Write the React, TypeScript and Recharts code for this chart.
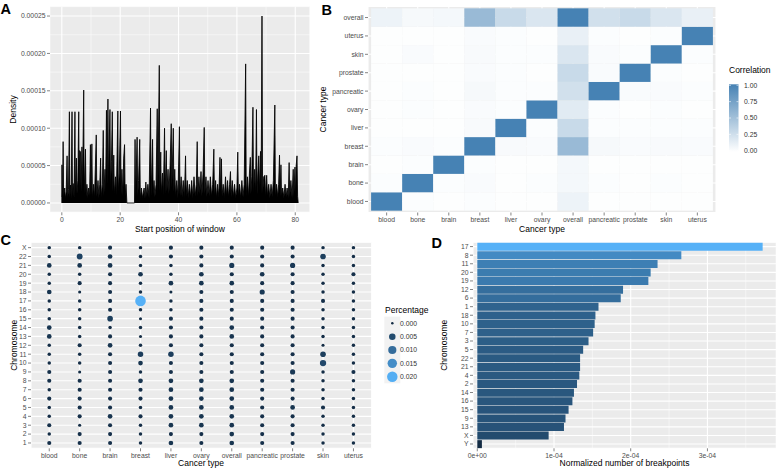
import {
  Area,
  AreaChart,
  Bar,
  BarChart,
  CartesianGrid,
  Cell,
  Scatter,
  ScatterChart,
  XAxis,
  YAxis,
} from 'recharts';

const W = 777;
const H = 469;
const FONT = '"Liberation Sans", Arial, Helvetica, sans-serif';
const AXIS_TEXT = '#4D4D4D';
const TICK_LINE = '#333333';
const PANEL_BG = '#EBEBEB';

// A: breakpoint density along the genome, [start (Mb), density x 1e-5]
const WINDOW_DENSITY: [number, number][] = [
  [0, 0], [0.05, 5.1], [0.15, 0.8], [0.3, 2.0], [0.45, 8.2], [0.6, 0.7], [0.8, 1.5], [1.0, 2.0],
  [1.2, 0.6], [1.5, 1.5], [1.8, 6.3], [2.0, 0.7], [2.3, 1.8], [2.6, 12.2], [2.75, 0.7], [3.0, 2.4],
  [3.2, 0.6], [3.5, 12.2], [3.65, 0.8], [3.9, 2.6], [4.2, 0.7], [4.5, 12.2], [4.65, 1.0], [5.0, 6.0],
  [5.2, 1.2], [5.5, 3.0], [5.8, 12.2], [5.95, 1.5], [6.1, 7.0], [6.4, 6.8], [6.6, 1.5], [6.9, 7.5],
  [7.1, 2.0], [7.5, 15.1], [7.65, 1.2], [8.1, 7.2], [8.3, 0.9], [8.6, 2.5], [8.9, 0.7], [9.2, 2.0],
  [9.5, 0.8], [9.8, 7.8], [10.0, 0.9], [10.3, 7.9], [10.5, 0.7], [10.9, 2.5], [11.2, 0.7], [11.8, 9.1],
  [12.0, 0.8], [12.4, 3.0], [12.7, 0.7], [13.0, 2.5], [13.3, 6.0], [13.5, 0.8], [13.9, 2.5], [14.2, 9.7],
  [14.4, 0.9], [14.8, 4.5], [15.0, 1.2], [15.3, 12.4], [15.5, 2.5], [15.8, 13.9], [16.0, 3.0], [16.2, 7.0],
  [16.5, 12.5], [16.7, 2.0], [17.0, 5.5], [17.3, 12.2], [17.5, 1.5], [17.8, 6.4], [18.0, 1.2], [18.4, 3.5],
  [18.7, 0.9], [19.2, 12.3], [19.35, 1.5], [19.7, 4.0], [20.1, 12.3], [20.3, 1.2], [20.6, 4.5], [20.9, 0.9],
  [21.2, 6.0], [21.5, 7.8], [21.7, 0.9], [22.0, 2.5], [22.25, 0.4], [22.3, 0], [24.9, 0], [25.1, 8.5],
  [25.3, 0.7], [25.8, 8.8], [26.0, 0.9], [26.3, 3.0], [26.7, 8.5], [26.9, 0.7], [27.3, 2.0], [27.6, 0.7],
  [28.2, 2.0], [28.5, 0.6], [28.8, 2.8], [29.1, 0.8], [29.5, 2.5], [29.9, 0.7], [30.4, 12.7], [30.6, 0.9],
  [31.1, 8.5], [31.3, 1.2], [31.6, 3.0], [31.9, 0.8], [32.3, 2.5], [32.7, 12.6], [32.9, 1.2], [33.4, 18.4],
  [33.6, 1.5], [33.9, 6.8], [34.1, 1.2], [34.5, 4.0], [34.8, 0.9], [35.2, 10.0], [35.4, 1.2], [35.8, 7.0],
  [36.0, 1.5], [36.4, 4.5], [36.7, 1.2], [37.1, 5.0], [37.5, 10.6], [37.7, 2.0], [38.2, 10.0], [38.4, 1.5],
  [38.7, 4.5], [39.0, 0.9], [39.4, 3.0], [39.8, 0.7], [40.3, 10.2], [40.5, 0.9], [40.9, 3.5], [41.2, 0.8],
  [41.6, 3.0], [42.0, 0.7], [42.4, 6.3], [42.6, 0.9], [43.0, 3.0], [43.3, 0.7], [43.7, 2.5], [44.1, 0.8],
  [44.5, 3.0], [44.9, 0.7], [45.3, 3.5], [45.7, 0.9], [46.1, 2.5], [46.4, 8.2], [46.6, 0.9], [47.0, 3.5],
  [47.3, 1.2], [47.7, 4.2], [48.0, 0.9], [48.4, 4.0], [48.8, 10.1], [49.0, 1.2], [49.4, 3.5], [49.7, 0.8],
  [50.1, 3.0], [50.5, 0.9], [50.9, 3.5], [51.3, 0.9], [51.7, 2.5], [52.1, 7.2], [52.3, 0.9], [52.7, 3.0],
  [53.0, 0.7], [53.4, 2.5], [53.8, 0.8], [54.2, 6.1], [54.4, 1.2], [54.7, 5.9], [54.9, 0.9], [55.3, 2.5],
  [55.7, 0.7], [56.1, 3.5], [56.4, 0.9], [56.8, 3.0], [57.1, 0.8], [57.5, 2.5], [57.8, 4.2], [58.0, 0.8],
  [58.4, 3.0], [58.8, 0.8], [59.2, 2.5], [59.6, 0.7], [60.0, 2.0], [60.3, 6.8], [60.5, 0.9], [60.9, 2.5],
  [61.3, 0.7], [61.7, 3.0], [62.1, 0.8], [62.5, 2.5], [63.0, 18.6], [63.2, 0.9], [63.6, 3.5], [64.0, 0.8],
  [64.3, 4.0], [64.6, 6.1], [64.8, 1.2], [65.1, 3.5], [65.5, 12.8], [65.7, 1.2], [66.1, 4.5], [66.4, 1.2],
  [66.7, 12.5], [66.9, 1.2], [67.2, 4.0], [67.5, 6.3], [67.7, 1.5], [68.1, 6.9], [68.3, 1.2], [68.6, 25.0],
  [68.8, 1.2], [69.2, 3.5], [69.6, 3.7], [69.8, 0.8], [70.2, 3.7], [70.5, 0.9], [70.9, 2.5], [71.3, 0.7],
  [71.7, 2.5], [72.1, 0.8], [72.5, 3.0], [73.0, 13.1], [73.2, 0.9], [73.6, 2.5], [74.0, 0.8], [74.3, 2.5],
  [74.6, 6.4], [74.8, 0.9], [75.1, 5.1], [75.3, 0.9], [75.7, 2.0], [76.1, 0.7], [76.5, 2.5], [76.9, 0.8],
  [77.2, 2.0], [77.6, 0.7], [77.9, 5.4], [78.1, 0.8], [78.5, 3.0], [78.9, 0.7], [79.3, 4.5], [79.5, 0.8],
  [79.9, 4.8], [80.1, 0.9], [80.3, 4.9], [80.6, 6.3], [80.8, 0.9], [81.0, 0],
];
const DENSITY_X_TICKS = [0, 10, 20, 30, 40, 50, 60, 70, 80];
const DENSITY_Y_TICKS = [0, 2.5, 5, 7.5, 10, 12.5, 15, 17.5, 20, 22.5, 25];

// B: correlation between cancer types
const CORR_COLS = ['blood', 'bone', 'brain', 'breast', 'liver', 'ovary', 'overall', 'pancreatic', 'prostate', 'skin', 'uterus'];
const CORR_ROWS = ['blood', 'bone', 'brain', 'breast', 'liver', 'ovary', 'pancreatic', 'prostate', 'skin', 'uterus', 'overall'];
const CORR: number[][] = [
  [1, 0.02, 0.01, 0.02, 0.01, 0.01, 0.1, 0.01, 0.01, 0.01, 0.01],
  [0.02, 1, 0.02, 0.03, 0.01, 0.02, 0.06, 0.02, 0.01, 0.02, 0.01],
  [0.01, 0.02, 1, 0.02, 0.01, 0.01, 0.06, 0.01, 0.01, 0.01, 0.01],
  [0.02, 0.03, 0.02, 1, 0.04, 0.03, 0.55, 0.05, 0.03, 0.04, 0.03],
  [0.01, 0.01, 0.01, 0.04, 1, 0.02, 0.3, 0.02, 0.02, 0.02, 0.02],
  [0.01, 0.02, 0.01, 0.03, 0.02, 1, 0.16, 0.02, 0.01, 0.02, 0.01],
  [0.01, 0.02, 0.01, 0.05, 0.02, 0.02, 0.25, 1, 0.03, 0.03, 0.02],
  [0.01, 0.01, 0.01, 0.03, 0.02, 0.01, 0.3, 0.03, 1, 0.02, 0.01],
  [0.01, 0.03, 0.01, 0.04, 0.02, 0.02, 0.2, 0.03, 0.02, 1, 0.02],
  [0.01, 0.01, 0.01, 0.03, 0.02, 0.01, 0.12, 0.02, 0.01, 0.02, 1],
  [0.1, 0.05, 0.06, 0.55, 0.3, 0.2, 1, 0.25, 0.3, 0.2, 0.12],
];
const CORR_BREAKS = [0, 0.25, 0.5, 0.75, 1];

// C: share of breakpoints per chromosome and cancer type (x 1e-3)
const PCT_TYPES = ['blood', 'bone', 'brain', 'breast', 'liver', 'ovary', 'overall', 'pancreatic', 'prostate', 'skin', 'uterus'];
const PCT_CHROMS = ['1', '2', '3', '4', '5', '6', '7', '8', '9', '10', '11', '12', '13', '14', '15', '16', '17', '18', '19', '20', '21', '22', 'X'];
const PCT: number[][] = [
  [0.8, 0.8, 0.8, 0.3, 1.5, 0.8, 1.5, 0.8, 0.8, 0.3, 0.3],
  [0.3, 0.8, 0.8, 0.3, 0.8, 0.8, 1.5, 0.8, 0.8, 0.3, 0.3],
  [0.8, 0.1, 0.8, 0.3, 1.5, 1.5, 1.5, 0.8, 0.8, 0.3, 0.3],
  [0.3, 0.8, 1.5, 0.8, 1.5, 1.5, 1.5, 0.8, 0.8, 0.3, 0.3],
  [0.3, 0.8, 0.8, 0.3, 1.5, 1.5, 1.5, 0.8, 1.5, 0.8, 0.3],
  [0.8, 0.8, 0.8, 0.8, 1.5, 1.5, 1.5, 0.8, 0.8, 0.3, 0.3],
  [0.3, 0.8, 0.8, 0.8, 1.5, 1.5, 1.5, 0.8, 0.8, 0.3, 0.3],
  [0.8, 0.8, 0.8, 1.5, 1.5, 1.5, 1.5, 0.8, 0.8, 0.3, 0.3],
  [0.8, 0.1, 0.8, 0.3, 0.8, 0.8, 0.8, 0.8, 2.2, 0.3, 0.8],
  [0.3, 0.3, 0.8, 1.5, 0.8, 0.8, 0.8, 0.8, 0.8, 4.5, 0.3],
  [0.3, 0.3, 0.8, 2.8, 2.8, 0.8, 0.8, 0.8, 0.8, 3.0, 0.3],
  [0.3, 0.8, 1.5, 0.3, 0.8, 0.8, 0.8, 0.8, 0.8, 0.1, 0.3],
  [1.5, 0.3, 0.8, 0.1, 0.8, 0.8, 1.5, 0.8, 0.8, 0.3, 0.3],
  [1.5, 0.3, 0.3, 0.3, 0.8, 0.8, 1.5, 0.8, 0.8, 0.3, 0.3],
  [0.3, 0.3, 3.0, 0.1, 0.8, 0.8, 0.8, 0.8, 0.8, 0.3, 0.3],
  [0.3, 0.3, 0.8, 0.3, 0.3, 0.8, 0.8, 0.8, 0.8, 0.3, 0.3],
  [0.3, 0.3, 0.8, 20.5, 0.3, 0.8, 0.8, 0.8, 0.8, 0.8, 0.3],
  [1.5, 0.1, 0.8, 0.3, 0.1, 0.8, 0.8, 2.2, 0.8, 0.3, 0.3],
  [0.3, 0.8, 0.8, 0.3, 1.5, 1.5, 1.5, 0.8, 0.8, 0.3, 0.3],
  [0.3, 0.3, 0.8, 1.5, 0.3, 1.5, 0.8, 1.5, 0.8, 0.3, 0.8],
  [1.5, 1.5, 1.5, 0.3, 0.3, 0.8, 2.2, 0.8, 2.2, 0.3, 0.3],
  [0.3, 3.5, 1.5, 0.3, 0.8, 0.8, 0.8, 0.8, 0.8, 3.0, 0.3],
  [0.3, 0.3, 0.8, 0.3, 0.8, 0.8, 0.8, 0.8, 0.8, 0.3, 0.3],
];
const PCT_BREAKS = [0, 5, 10, 15, 20];

// D: normalized number of breakpoints (x 1e-4), top to bottom
const BP_CHROMS = ['17', '8', '11', '20', '19', '12', '6', '1', '18', '10', '7', '3', '5', '22', '21', '4', '2', '14', '16', '15', '9', '13', 'X', 'Y'];
const BP_VALUES = [3.72, 2.66, 2.35, 2.26, 2.23, 1.9, 1.87, 1.58, 1.54, 1.53, 1.51, 1.45, 1.38, 1.34, 1.34, 1.33, 1.3, 1.26, 1.24, 1.19, 1.15, 1.13, 0.93, 0.06];
const BP_TICKS = [0, 0.5, 1, 1.5, 2, 2.5, 3, 3.5];

type RGB = [number, number, number];
const NAVY: RGB = [19, 43, 67];
const SKY: RGB = [86, 177, 247];
const WHITE: RGB = [255, 255, 255];
const STEEL: RGB = [70, 130, 180];

function mix(a: RGB, b: RGB, t: number) {
  const c = a.map((v, i) => Math.round(v + (b[i] - v) * Math.max(0, Math.min(1, t))));
  return `rgb(${c[0]},${c[1]},${c[2]})`;
}

const pctColor = (v: number) => mix(NAVY, SKY, v / 20.5);
const pctRadius = (v: number) => (2.5 + 8 * Math.sqrt(Math.max(v, 0) / 20)) / 2;
const bpMin = Math.min(...BP_VALUES);
const bpMax = Math.max(...BP_VALUES);
const bpColor = (v: number) => mix(NAVY, SKY, (v - bpMin) / (bpMax - bpMin));

function frame(l: number, t: number, r: number, b: number, yw: number, xh: number) {
  return { width: W, height: H, margin: { left: l - yw, top: t, right: W - r, bottom: H - b - xh } };
}

const bottomTick = (fmt: (v: any) => string) => (p: any) => {
  const label = fmt(p.payload.value);
  if (label === '') return <g />;
  return (
    <g>
      <line x1={p.x} x2={p.x} y1={p.y - 3} y2={p.y} stroke={TICK_LINE} strokeWidth={0.6} />
      <text x={p.x} y={p.y + 6.6} textAnchor="middle" fontSize={6.8} fill={AXIS_TEXT}>
        {label}
      </text>
    </g>
  );
};

const leftTick = (fmt: (v: any) => string) => (p: any) => {
  const label = fmt(p.payload.value);
  if (label === '') return <g />;
  return (
    <g>
      <line x1={p.x} x2={p.x + 3} y1={p.y} y2={p.y} stroke={TICK_LINE} strokeWidth={0.6} />
      <text x={p.x - 1.5} y={p.y + 2.4} textAnchor="end" fontSize={6.8} fill={AXIS_TEXT}>
        {label}
      </text>
    </g>
  );
};

const gridLine = (p: any) => (
  <line
    key={`g-${p.x1}-${p.y1}-${p.x2}-${p.y2}`}
    x1={p.x1}
    y1={p.y1}
    x2={p.x2}
    y2={p.y2}
    stroke="#fff"
    strokeWidth={p.index % 2 === 1 ? 0.5 : 1.1}
  />
);

const majorLine = (p: any) => (
  <line key={`m-${p.x1}-${p.y1}-${p.x2}-${p.y2}`} x1={p.x1} y1={p.y1} x2={p.x2} y2={p.y2} stroke="#fff" strokeWidth={1.1} />
);

const layer: React.CSSProperties = { position: 'absolute', left: 0, top: 0 };

function DensityPanel() {
  const rows = WINDOW_DENSITY.map(([x, y]) => ({ x, y }));
  return (
    <div style={layer}>
      <AreaChart data={rows} {...frame(50, 6.7, 310, 212.3, 50, 16)}>
        <CartesianGrid fill={PANEL_BG} fillOpacity={1} horizontal={gridLine} vertical={gridLine} />
        <XAxis
          type="number"
          dataKey="x"
          domain={[-4.05, 85.05]}
          ticks={DENSITY_X_TICKS}
          allowDataOverflow
          interval={0}
          height={16}
          axisLine={false}
          tickLine={false}
          tickSize={3}
          tickMargin={0}
          tick={bottomTick((v) => (v % 20 === 0 ? String(v) : ''))}
        />
        <YAxis
          type="number"
          domain={[-1.25, 26.25]}
          ticks={DENSITY_Y_TICKS}
          allowDataOverflow
          interval={0}
          width={50}
          axisLine={false}
          tickLine={false}
          tickSize={3}
          tickMargin={0}
          tick={leftTick((v) => (v % 5 === 0 ? (v / 1e5).toFixed(5) : ''))}
        />
        <Area
          type="linear"
          dataKey="y"
          stroke="#000"
          strokeWidth={0.85}
          fill="#000"
          fillOpacity={1}
          dot={false}
          activeDot={false}
          isAnimationActive={false}
        />
      </AreaChart>
    </div>
  );
}

const CELL_W = (716 - 368) / 11.2;
const CELL_H = (212.5 - 6.5) / 11.2;

function CorrelationPanel() {
  const cells = CORR.flatMap((row, yi) => row.map((v, xi) => ({ x: xi, y: yi, v })));
  return (
    <div style={layer}>
      <ScatterChart {...frame(368, 6.5, 716, 212.5, 60, 16)}>
        <CartesianGrid fill={PANEL_BG} fillOpacity={1} horizontal={majorLine} vertical={majorLine} />
        <XAxis
          type="number"
          dataKey="x"
          domain={[-0.6, 10.6]}
          ticks={CORR_COLS.map((_, i) => i)}
          allowDataOverflow
          interval={0}
          height={16}
          axisLine={false}
          tickLine={false}
          tickSize={3}
          tickMargin={0}
          tick={bottomTick((v) => CORR_COLS[v])}
        />
        <YAxis
          type="number"
          dataKey="y"
          domain={[-0.6, 10.6]}
          ticks={CORR_ROWS.map((_, i) => i)}
          allowDataOverflow
          interval={0}
          width={60}
          axisLine={false}
          tickLine={false}
          tickSize={3}
          tickMargin={0}
          tick={leftTick((v) => CORR_ROWS[v])}
        />
        <Scatter
          data={cells}
          isAnimationActive={false}
          shape={(p: any) => (
            <rect
              x={p.cx - CELL_W / 2}
              y={p.cy - CELL_H / 2}
              width={CELL_W}
              height={CELL_H}
              fill={mix(WHITE, STEEL, p.payload.v)}
            />
          )}
        />
      </ScatterChart>
    </div>
  );
}

function PercentagePanel() {
  const dots = PCT.flatMap((row, yi) => row.map((v, xi) => ({ x: xi, y: yi, v })));
  return (
    <div style={layer}>
      <ScatterChart {...frame(31, 242.3, 371.7, 448.3, 31, 16)}>
        <CartesianGrid fill={PANEL_BG} fillOpacity={1} horizontal={majorLine} vertical={majorLine} />
        <XAxis
          type="number"
          dataKey="x"
          domain={[-0.6, 10.6]}
          ticks={PCT_TYPES.map((_, i) => i)}
          allowDataOverflow
          interval={0}
          height={16}
          axisLine={false}
          tickLine={false}
          tickSize={3}
          tickMargin={0}
          tick={bottomTick((v) => PCT_TYPES[v])}
        />
        <YAxis
          type="number"
          dataKey="y"
          domain={[-0.6, 22.6]}
          ticks={PCT_CHROMS.map((_, i) => i)}
          allowDataOverflow
          interval={0}
          width={31}
          axisLine={false}
          tickLine={false}
          tickSize={3}
          tickMargin={0}
          tick={leftTick((v) => PCT_CHROMS[v])}
        />
        <Scatter
          data={dots}
          isAnimationActive={false}
          shape={(p: any) => (
            <circle cx={p.cx} cy={p.cy} r={pctRadius(p.payload.v)} fill={pctColor(p.payload.v)} />
          )}
        />
      </ScatterChart>
    </div>
  );
}

function BreakpointPanel() {
  const rows = BP_CHROMS.map((chr, i) => ({ chr, v: BP_VALUES[i] }));
  return (
    <div style={layer}>
      <BarChart data={rows} layout="vertical" barCategoryGap="5%" {...frame(473, 242.3, 776, 448.3, 30, 16)}>
        <CartesianGrid fill={PANEL_BG} fillOpacity={1} horizontal={majorLine} vertical={gridLine} />
        <XAxis
          type="number"
          domain={[-0.056, 3.894]}
          ticks={BP_TICKS}
          allowDataOverflow
          interval={0}
          height={16}
          axisLine={false}
          tickLine={false}
          tickSize={3}
          tickMargin={0}
          tick={bottomTick((v) => (v % 1 !== 0 ? '' : v === 0 ? '0e+00' : `${v}e-04`))}
        />
        <YAxis
          type="category"
          dataKey="chr"
          interval={0}
          width={30}
          axisLine={false}
          tickLine={false}
          tickSize={3}
          tickMargin={0}
          tick={leftTick((v) => String(v))}
        />
        <Bar dataKey="v" isAnimationActive={false}>
          {rows.map((r) => (
            <Cell key={r.chr} fill={bpColor(r.v)} />
          ))}
        </Bar>
      </BarChart>
    </div>
  );
}

function Overlay() {
  const title = { fontSize: 8.5, fill: '#000' } as const;
  const letter = { fontSize: 14.5, fontWeight: 700, fill: '#000' } as const;
  const corrY = (v: number) => 150.7 - v * 65.4;
  const pctY = (i: number) => 323.3 + i * 13.35;
  return (
    <svg width={W} height={H} style={{ ...layer, pointerEvents: 'none' }}>
      <defs>
        <linearGradient id="corrGrad" x1="0" y1="1" x2="0" y2="0">
          <stop offset="0" stopColor={mix(WHITE, STEEL, 0)} />
          <stop offset="1" stopColor={mix(WHITE, STEEL, 1)} />
        </linearGradient>
      </defs>
      <text x={0.5} y={14.3} {...letter}>A</text>
      <text x={321.5} y={14.7} {...letter}>B</text>
      <text x={0.5} y={245.2} {...letter}>C</text>
      <text x={431.5} y={248} {...letter}>D</text>

      <text x={180} y={232} textAnchor="middle" {...title}>Start position of window</text>
      <text transform="translate(16,109.5) rotate(-90)" textAnchor="middle" {...title}>Density</text>

      <text x={542} y={232} textAnchor="middle" {...title}>Cancer type</text>
      <text transform="translate(326.3,109.5) rotate(-90)" textAnchor="middle" {...title}>Cancer type</text>

      <text x={201} y={466} textAnchor="middle" {...title}>Cancer type</text>
      <text transform="translate(16.7,345.3) rotate(-90)" textAnchor="middle" {...title}>Chromosome</text>

      <text x={624.5} y={466} textAnchor="middle" {...title}>Normalized number of breakpoints</text>
      <text transform="translate(447.3,345.3) rotate(-90)" textAnchor="middle" {...title}>Chromosome</text>

      <text x={729} y={73} {...title}>Correlation</text>
      <rect x={729} y={84.3} width={9.5} height={67.6} fill="url(#corrGrad)" />
      {CORR_BREAKS.map((b) => (
        <g key={b}>
          <line x1={729} x2={731} y1={corrY(b)} y2={corrY(b)} stroke="#fff" strokeWidth={0.6} />
          <line x1={736.5} x2={738.5} y1={corrY(b)} y2={corrY(b)} stroke="#fff" strokeWidth={0.6} />
          <text x={744} y={corrY(b) + 2.4} fontSize={6.8} fill="#333">{b.toFixed(2)}</text>
        </g>
      ))}

      <text x={385} y={313} {...title}>Percentage</text>
      <rect x={384.3} y={316.6} width={16} height={13.35 * 5} fill="#F2F2F2" />
      {PCT_BREAKS.map((b, i) => (
        <g key={b}>
          <circle cx={392.3} cy={pctY(i)} r={pctRadius(b)} fill={pctColor(b)} />
          <text x={400} y={pctY(i) + 2.4} fontSize={6.8} fill="#333">{(b / 1000).toFixed(3)}</text>
        </g>
      ))}
    </svg>
  );
}

export default function App() {
  return (
    <div style={{ position: 'absolute', left: 0, top: 0, width: W, height: H, background: '#fff', fontFamily: FONT }}>
      <DensityPanel />
      <CorrelationPanel />
      <PercentagePanel />
      <BreakpointPanel />
      <Overlay />
    </div>
  );
}
